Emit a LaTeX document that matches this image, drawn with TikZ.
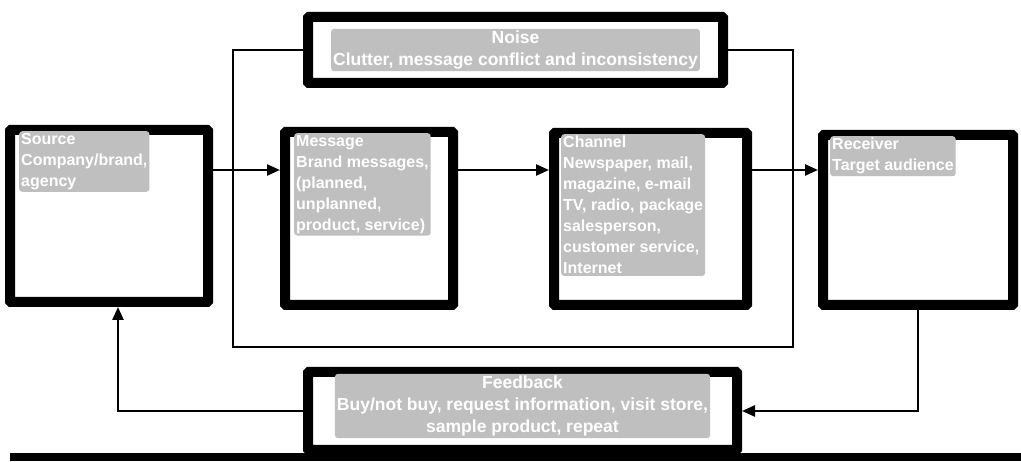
\documentclass[tikz,border=0pt]{standalone}
\usepackage{fontspec}
\setmainfont{Liberation Sans}
\usetikzlibrary{arrows.meta}

\begin{document}
\begin{tikzpicture}[x=1pt, y=-1pt,
  stagebox/.style={draw=black, line width=10pt, fill=white, inner sep=0pt,
                   outer sep=5pt, rounded corners=1pt},
  label/.style={fill=gray!50, text=white, inner sep=2pt, rounded corners=3pt,
                font=\fontsize{16}{21}\selectfont\bfseries},
  widelabel/.style={label, font=\fontsize{17.5}{22}\selectfont\bfseries},
  link/.style={line width=2.4pt, draw=black},
  flow/.style={link, -{Triangle[length=13pt,width=11pt]}}]

\useasboundingbox (0,0) rectangle (1021,462);

% bar along the foot of the figure
\fill[black] (10,453) rectangle (1021,461);

% stages of the model
\node[stagebox, minimum width=198pt, minimum height=172pt] (src)   at (109,216)   {};
\node[stagebox, minimum width=168pt, minimum height=173pt] (msg)   at (369,218.5) {};
\node[stagebox, minimum width=193pt, minimum height=172pt] (chn)   at (650.5,219) {};
\node[stagebox, minimum width=190pt, minimum height=170pt] (rcv)   at (918,220)   {};
\node[stagebox, minimum width=415pt, minimum height=66pt]  (noise) at (515.5,50)  {};
\node[stagebox, minimum width=429pt, minimum height=78pt]  (fb)    at (522.5,411) {};

% texts inside the stages
\node[label, anchor=north west, align=left] (srcT) at ([shift={(14pt,-6pt)}]src.north west)
  {Source\\Company/brand,\\agency};
\node[label, anchor=north west, align=left] (msgT) at ([shift={(14pt,-6pt)}]msg.north west)
  {Message\\Brand messages,\\(planned,\\unplanned,\\product, service)};
\node[label, anchor=north west, align=left] (chnT) at ([shift={(12pt,-6pt)}]chn.north west)
  {Channel\\Newspaper, mail,\\magazine, e-mail\\TV, radio, package\\salesperson,\\customer service,\\Internet};
\node[label, anchor=north west, align=left] (rcvT) at ([shift={(12pt,-6pt)}]rcv.north west)
  {Receiver\\Target audience};
\node[widelabel, align=center] (noiseT) at (noise.center)
  {Noise\\Clutter, message conflict and inconsistency};
\node[widelabel, align=center] (fbT) at ([yshift=5pt]fb.center)
  {Feedback\\Buy/not buy, request information, visit store,\\sample product, repeat};

% main flow
\coordinate (row) at (0,170);
\draw[flow] (src.east |- row) -- (msg.west |- row);
\draw[flow] (msg.east |- row) -- (chn.west |- row);
\draw[flow] (chn.east |- row) -- (rcv.west |- row);

% noise surrounding message and channel
\coordinate (nl) at (233,347);
\coordinate (nr) at (793,347);
\draw[link] (noise.west) -| (nl) -- (nr) |- (noise.east);

% feedback loop
\coordinate (fbin) at (918,411);
\coordinate (srcin) at (118,411);
\draw[flow] (rcv.south) -- (fbin) -- (fb.east);
\draw[flow] (fb.west) -- (srcin) -- (srcin |- src.south);

\end{tikzpicture}
\end{document}
